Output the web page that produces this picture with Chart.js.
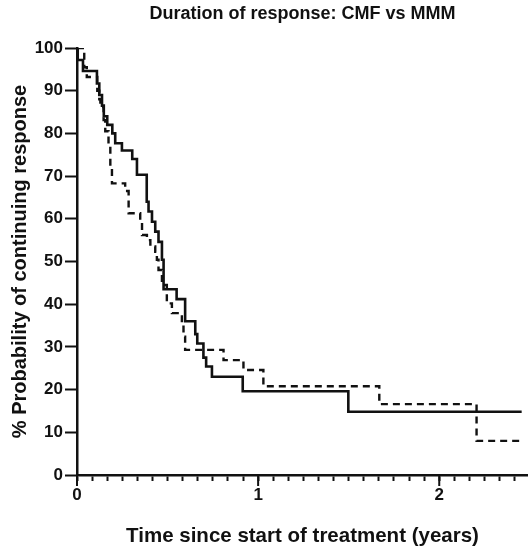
<!DOCTYPE html>
<html>
<head>
<meta charset="utf-8">
<script src="https://cdn.jsdelivr.net/npm/chart.js@4"></script>
<style>
    html, body { margin: 0; padding: 0; background: #fff; }
    #wrap { width: 528px; height: 550px; position: relative; }
</style>
</head>
<body>
<div id="wrap"><canvas id="kmChart"></canvas></div>
<script>
// Kaplan-Meier steps (time in years, % still responding)
const cmfTimes  = [0, 0.004, 0.033, 0.110, 0.123, 0.138, 0.148, 0.167, 0.195, 0.211, 0.248, 0.305, 0.331,
                   0.385, 0.395, 0.414, 0.432, 0.450, 0.469, 0.478, 0.550, 0.597, 0.653, 0.664, 0.698,
                   0.713, 0.745, 0.915, 1.498, 2.455];
const cmfValues = [100, 97.2, 94.6, 91.7, 89, 86.5, 84, 82, 80, 77.7, 76, 74, 70.3,
                   64, 61.7, 59.3, 57, 54.6, 50.4, 43.5, 41.2, 36, 33, 30.8, 27.5,
                   25.4, 23, 19.6, 14.8, 14.8];

const mmmTimes  = [0, 0.040, 0.054, 0.112, 0.123, 0.129, 0.147, 0.156, 0.174, 0.184, 0.193, 0.266, 0.285,
                   0.349, 0.359, 0.386, 0.405, 0.432, 0.441, 0.450, 0.469, 0.496, 0.524, 0.579, 0.588,
                   0.597, 0.809, 0.919, 1.029, 1.669, 2.206, 2.455];
const mmmValues = [100, 95.5, 93.2, 90, 88, 86.2, 83.1, 80.5, 76.9, 72.2, 68.3, 66.5, 61.3,
                   59.7, 56.2, 55, 53.5, 52.3, 50.4, 48, 44.5, 40.2, 37.9, 35.1, 32.4,
                   29.3, 26.9, 24.6, 20.8, 16.6, 8.0, 8.0];

const xMajorTicks = [0, 1, 2];
const yTickValues = [0, 10, 20, 30, 40, 50, 60, 70, 80, 90, 100];

const FONT = '"Liberation Sans", Arial, Helvetica, sans-serif';
const INK = '#111';

function toPoints(times, values) {
    return times.map((t, i) => ({ x: t, y: values[i] }));
}

// minor ticks every month, major ticks get a longer mark
const monthTicks = [];
for (let m = 0; m <= 29; m++) monthTicks.push(m / 12);

const majorTickPlugin = {
    id: 'majorTicks',
    afterDraw(chart) {
        const ctx = chart.ctx;
        const xs = chart.scales.x;
        ctx.save();
        ctx.strokeStyle = INK;
        ctx.lineWidth = 2;
        for (const v of xMajorTicks) {
            const px = xs.getPixelForValue(v);
            ctx.beginPath();
            ctx.moveTo(px, xs.top);
            ctx.lineTo(px, xs.top + 11);
            ctx.stroke();
        }
        ctx.restore();
    }
};

new Chart(document.getElementById('kmChart').getContext('2d'), {
    type: 'line',
    data: {
        datasets: [
            {
                label: 'CMF',
                data: toPoints(cmfTimes, cmfValues),
                borderColor: INK,
                borderWidth: 2.6,
                stepped: 'before',
                pointRadius: 0,
                fill: false
            },
            {
                label: 'MMM',
                data: toPoints(mmmTimes, mmmValues),
                borderColor: INK,
                borderWidth: 2.4,
                borderDash: [7, 5],
                stepped: 'before',
                pointRadius: 0,
                fill: false
            }
        ]
    },
    options: {
        responsive: true,
        maintainAspectRatio: false,
        animation: false,
        layout: { padding: 0 },
        plugins: {
            legend: { display: false },
            tooltip: { enabled: false },
            title: {
                display: true,
                text: 'Duration of response: CMF vs MMM',
                fullSize: false,
                color: INK,
                font: { family: FONT, size: 18, weight: 'bold' },
                padding: { top: 3, bottom: 23.4 }
            }
        },
        scales: {
            x: {
                type: 'linear',
                min: 0,
                max: 2.49,
                afterBuildTicks: (s) => { s.ticks = monthTicks.map(v => ({ value: v })); },
                afterFit: (s) => { s.height = 75; },
                border: { color: INK, width: 2.5 },
                grid: { drawOnChartArea: false, drawTicks: true, tickLength: 6, tickColor: INK, tickWidth: 2 },
                ticks: {
                    autoSkip: false,
                    maxRotation: 0,
                    padding: 4,
                    color: INK,
                    font: { family: FONT, size: 17, weight: 'bold' },
                    callback: (v) => {
                        const r = Math.round(v);
                        return Math.abs(v - r) < 1e-6 && xMajorTicks.includes(r) ? String(r) : '';
                    }
                },
                title: {
                    display: true,
                    text: 'Time since start of treatment (years)',
                    color: INK,
                    font: { family: FONT, size: 20.5, weight: 'bold' },
                    padding: { top: 0, bottom: 1 }
                }
            },
            y: {
                min: 0,
                max: 100,
                afterBuildTicks: (s) => { s.ticks = yTickValues.map(v => ({ value: v })); },
                afterFit: (s) => { s.width = 77; },
                border: { color: INK, width: 2.5 },
                grid: { drawOnChartArea: false, drawTicks: true, tickLength: 12, tickColor: INK, tickWidth: 2 },
                ticks: {
                    padding: 2,
                    color: INK,
                    font: { family: FONT, size: 17, weight: 'bold' }
                },
                title: {
                    display: true,
                    text: '% Probability of continuing response',
                    color: INK,
                    font: { family: FONT, size: 20, weight: 'bold' },
                    padding: { top: 8, bottom: 0 }
                }
            }
        }
    },
    plugins: [majorTickPlugin]
});
</script>
</body>
</html>
